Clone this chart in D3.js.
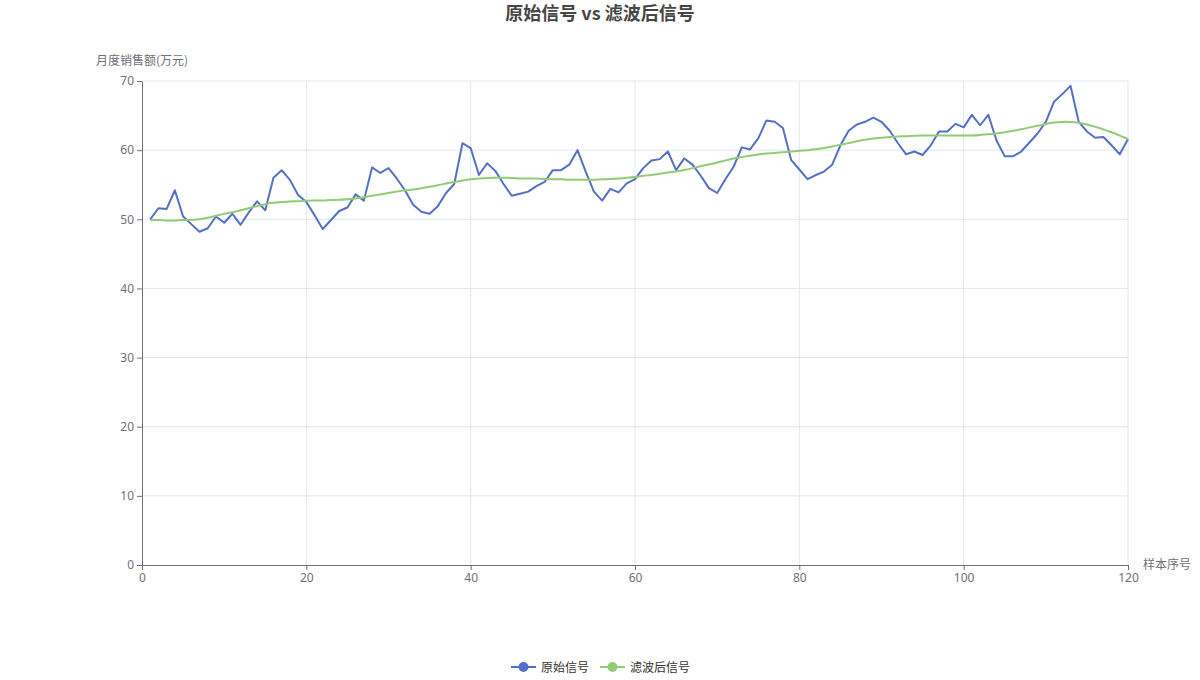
<!DOCTYPE html>
<html>
<head>
<meta charset="utf-8">
<script src="https://cdn.jsdelivr.net/npm/d3@7"></script>
<style>
  body { margin: 0; background: #fff; }
  svg { font-family: "Noto Sans CJK SC", "Noto Sans", sans-serif; }
</style>
</head>
<body>
<svg id="chart" width="1200" height="680"></svg>
<script>
// raw signal, samples 1..120
var rawValues = [
  50.0, 51.6, 51.5, 54.2, 50.4, 49.3, 48.2, 48.7, 50.4, 49.5,
  50.8, 49.2, 51.0, 52.6, 51.3, 56.0, 57.1, 55.7, 53.5, 52.5,
  50.6, 48.6, 49.9, 51.2, 51.7, 53.6, 52.7, 57.5, 56.7, 57.4,
  55.9, 54.2, 52.1, 51.1, 50.8, 51.9, 53.8, 55.1, 61.0, 60.3,
  56.4, 58.1, 57.0, 55.1, 53.4, 53.7, 54.0, 54.8, 55.4, 57.1,
  57.1, 57.9, 60.0, 56.9, 54.0, 52.7, 54.4, 53.9, 55.2, 55.8,
  57.4, 58.5, 58.7, 59.8, 57.1, 58.8, 57.9, 56.3, 54.5, 53.8,
  55.8, 57.6, 60.4, 60.1, 61.7, 64.3, 64.1, 63.2, 58.6, 57.2,
  55.8, 56.4, 56.9, 57.9, 60.7, 62.8, 63.7, 64.1, 64.7, 64.1,
  62.8, 61.0, 59.4, 59.8, 59.3, 60.7, 62.7, 62.7, 63.8, 63.3,
  65.1, 63.6, 65.1, 61.4, 59.1, 59.1, 59.8, 61.1, 62.4, 64.1,
  67.0, 68.1, 69.3, 64.1, 62.7, 61.8, 61.9, 60.7, 59.4, 61.6
];
// filtered signal, samples 1..120
var filteredValues = [
  49.9, 49.9, 49.8, 49.8, 49.9, 49.9, 50.0, 50.2, 50.5, 50.8,
  51.0, 51.3, 51.6, 51.9, 52.2, 52.4, 52.5, 52.6, 52.6, 52.7,
  52.7, 52.7, 52.8, 52.8, 52.9, 53.0, 53.2, 53.4, 53.6, 53.8,
  54.0, 54.2, 54.3, 54.5, 54.7, 54.9, 55.2, 55.4, 55.6, 55.8,
  55.9, 56.0, 56.0, 56.0, 56.0, 55.9, 55.9, 55.9, 55.8, 55.8,
  55.8, 55.7, 55.7, 55.7, 55.7, 55.8, 55.8, 55.9, 56.0, 56.1,
  56.3, 56.4, 56.6, 56.8, 56.9, 57.1, 57.4, 57.7, 57.9, 58.2,
  58.5, 58.8, 59.0, 59.2, 59.4, 59.5, 59.6, 59.7, 59.8, 59.9,
  60.0, 60.1, 60.3, 60.5, 60.8, 61.0, 61.3, 61.5, 61.7, 61.8,
  61.9, 62.0, 62.0, 62.1, 62.1, 62.1, 62.1, 62.1, 62.1, 62.1,
  62.1, 62.2, 62.3, 62.4, 62.6, 62.8, 63.0, 63.3, 63.5, 63.8,
  64.0, 64.1, 64.1, 64.0, 63.7, 63.4, 63.0, 62.6, 62.1, 61.6
];
var seriesNames = ["原始信号", "滤波后信号"];
var seriesColors = ["#5470c6", "#91cc75"];
var xTicks = [0, 20, 40, 60, 80, 100, 120];
var yTicks = [0, 10, 20, 30, 40, 50, 60, 70];

var svg = d3.select("#chart");
var plotLeft = 142, plotRight = 1128, plotTop = 81, plotBottom = 565;

var x = d3.scaleLinear().domain([0, 120]).range([plotLeft, plotRight]);
var y = d3.scaleLinear().domain([0, 70]).range([plotBottom, plotTop]);

// title
svg.append("text")
  .attr("x", 600).attr("y", 20)
  .attr("text-anchor", "middle")
  .attr("font-size", 18).attr("font-weight", "bold")
  .attr("fill", "#464646")
  .text("原始信号 vs 滤波后信号");

// grid lines
svg.append("g").selectAll("line").data(yTicks.filter(function(d){ return d > 0; }))
  .enter().append("line")
  .attr("x1", plotLeft).attr("x2", plotRight)
  .attr("y1", function(d){ return y(d); }).attr("y2", function(d){ return y(d); })
  .attr("stroke", "#E0E6F1");
svg.append("g").selectAll("line").data(xTicks.filter(function(d){ return d > 0; }))
  .enter().append("line")
  .attr("y1", plotTop).attr("y2", plotBottom)
  .attr("x1", function(d){ return x(d); }).attr("x2", function(d){ return x(d); })
  .attr("stroke", "#E0E6F1");

// axes
var xAxis = svg.append("g").attr("transform", "translate(0," + plotBottom + ")")
  .call(d3.axisBottom(x).tickValues(xTicks).tickSize(5).tickSizeOuter(0));
var yAxis = svg.append("g").attr("transform", "translate(" + plotLeft + ",0)")
  .call(d3.axisLeft(y).tickValues(yTicks).tickSize(5).tickSizeOuter(0));
[xAxis, yAxis].forEach(function(g){
  g.select(".domain").attr("stroke", "#6E7079");
  g.selectAll(".tick line").attr("stroke", "#6E7079");
  g.selectAll(".tick text").attr("fill", "#6E7079").attr("font-size", 12)
    .attr("font-family", "'Noto Sans', sans-serif");
});
xAxis.selectAll(".tick text").attr("y", 8);
yAxis.selectAll(".tick text").attr("x", -8);

// axis names
svg.append("text")
  .attr("x", plotLeft).attr("y", 65)
  .attr("text-anchor", "middle")
  .attr("font-size", 12).attr("fill", "#6E7079")
  .text("月度销售额(万元)");
svg.append("text")
  .attr("x", plotRight + 15).attr("y", plotBottom + 4)
  .attr("font-size", 12).attr("fill", "#6E7079")
  .text("样本序号");

// lines
var line = d3.line()
  .x(function(d, i){ return x(i + 1); })
  .y(function(d){ return y(d); });

svg.append("path").datum(rawValues)
  .attr("d", line)
  .attr("fill", "none").attr("stroke", seriesColors[0])
  .attr("stroke-width", 2).attr("stroke-linejoin", "round");

// filtered one is drawn smooth
svg.append("path").datum(filteredValues)
  .attr("d", line.curve(d3.curveBasis))
  .attr("fill", "none").attr("stroke", seriesColors[1])
  .attr("stroke-width", 2).attr("stroke-linejoin", "round");

// legend
var legendX = [511, 600];
var legend = svg.append("g").selectAll("g").data(seriesNames).enter().append("g")
  .attr("transform", function(d, i){ return "translate(" + legendX[i] + ",667)"; });
legend.append("line")
  .attr("x1", 0).attr("x2", 25).attr("y1", 0).attr("y2", 0)
  .attr("stroke", function(d, i){ return seriesColors[i]; })
  .attr("stroke-width", 2);
legend.append("circle")
  .attr("cx", 12.5).attr("cy", 0).attr("r", 5)
  .attr("fill", function(d, i){ return seriesColors[i]; });
legend.append("text")
  .attr("x", 30).attr("y", 4.5)
  .attr("font-size", 12).attr("fill", "#333")
  .text(function(d){ return d; });
</script>
</body>
</html>
